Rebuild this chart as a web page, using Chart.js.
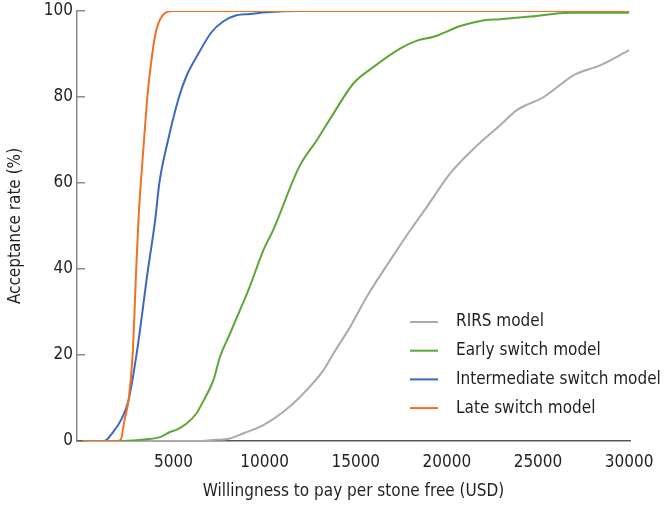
<!DOCTYPE html>
<html>
<head>
<meta charset="utf-8">
<script src="https://cdn.jsdelivr.net/npm/chart.js@4"></script>
<style>
  html, body { margin: 0; padding: 0; background: #fff; }
  #wrap { width: 668px; height: 507px; }
</style>
</head>
<body>
<div id="wrap"><canvas id="wtpChart" width="668" height="507"></canvas></div>
<script>
// willingness to pay (USD) -> acceptance rate (%)
var rirsX = [0, 6460, 7000, 8100, 8840, 9930, 11030, 11950, 13230, 13780, 14700, 15610, 17260, 17990, 18910, 20190, 21450, 22940, 23860, 25320, 26970, 28430, 30000];
var rirsY = [0, 0, 0.2, 0.6, 1.8, 3.7, 6.8, 10.3, 16.5, 20.4, 26.6, 33.6, 44.4, 49, 54.5, 62.3, 67.9, 73.5, 77, 80, 85.1, 87.4, 90.9];

var earlyX = [0, 2220, 3500, 4260, 4800, 5150, 5700, 6250, 6610, 7190, 7550, 8100, 8650, 9200, 9930, 10460, 11900, 12870, 13780, 14880, 15980, 17450, 18360, 19270, 20740, 21840, 22940, 24590, 26760, 30000];
var earlyY = [0, 0, 0.4, 0.9, 2.1, 2.6, 4, 6.4, 9.1, 14.2, 19.6, 25, 30.5, 36.1, 44.4, 49, 63.8, 70, 76.2, 83.2, 87, 91.3, 93.1, 94, 96.5, 97.7, 98.1, 98.7, 99.6, 99.6];

var interX = [0, 1200, 1650, 2120, 2530, 2980, 3600, 3980, 4220, 4700, 5300, 5720, 6350, 7070, 7700, 8450, 9200, 10100, 11900, 30000];
var interY = [0, 0, 1.9, 4.9, 9.5, 20.5, 40, 51, 60, 70, 80, 85, 90, 95, 97.5, 99, 99.3, 99.7, 100, 100];

var lateX = [0, 1900, 2100, 2310, 2530, 2760, 2950, 3080, 3220, 3380, 3560, 3830, 4050, 4400, 4950, 30000];
var lateY = [0, 0, 0.3, 4.9, 9.5, 20.5, 40, 52, 61, 70, 80, 90, 95.5, 99, 100, 100];

var xTicks = [5000, 10000, 15000, 20000, 25000, 30000];
var yTicks = [0, 20, 40, 60, 80, 100];

function pts(xs, ys) {
    return xs.map(function (x, i) { return { x: x, y: ys[i] }; });
}

var FONT = "'DejaVu Sans Condensed', 'Liberation Sans Narrow', sans-serif";
var TEXT = '#231f20';

// legend drawn inside the plot, lower right
var insideLegend = {
    id: 'insideLegend',
    afterDraw: function (chart) {
        var c = chart.ctx;
        c.save();
        c.font = '17px ' + FONT;
        c.textBaseline = 'middle';
        c.fillStyle = TEXT;
        chart.data.datasets.forEach(function (ds, i) {
            var y = 322 + i * 28.7;
            c.strokeStyle = ds.borderColor;
            c.lineWidth = 2;
            c.beginPath();
            c.moveTo(410, y);
            c.lineTo(438, y);
            c.stroke();
            c.fillText(ds.label, 456, y);
        });
        c.restore();
    }
};

var ctx = document.getElementById('wtpChart').getContext('2d');

var wtpChart = new Chart(ctx, {
    type: 'line',
    data: {
        datasets: [
            { label: 'RIRS model', data: pts(rirsX, rirsY), borderColor: '#ababab', order: 4 },
            { label: 'Early switch model', data: pts(earlyX, earlyY), borderColor: '#5ea636', order: 3 },
            { label: 'Intermediate switch model', data: pts(interX, interY), borderColor: '#3c68c0', order: 2 },
            { label: 'Late switch model', data: pts(lateX, lateY), borderColor: '#ef7223', order: 1 }
        ]
    },
    options: {
        responsive: false,
        animation: false,
        elements: {
            point: { radius: 0 },
            line: { borderWidth: 2, cubicInterpolationMode: 'monotone', fill: false }
        },
        layout: {
            padding: { top: 11, right: 38, left: 0, bottom: 0 }
        },
        plugins: {
            legend: { display: false },
            tooltip: { enabled: false }
        },
        scales: {
            x: {
                type: 'linear',
                min: -300,
                max: 30050,
                afterFit: function (s) { s.height = 66; s.paddingLeft = 0; s.paddingRight = 0; },
                afterBuildTicks: function (s) { s.ticks = xTicks.map(function (v) { return { value: v }; }); },
                grid: { display: false, drawTicks: false },
                border: { display: true, color: '#5a5657', width: 1.5 },
                ticks: {
                    padding: 11,
                    color: TEXT,
                    font: { family: FONT, size: 17 },
                    maxRotation: 0,
                    callback: function (v) { return String(v); }
                },
                title: {
                    display: true,
                    text: 'Willingness to pay per stone free (USD)',
                    color: TEXT,
                    font: { family: FONT, size: 17 },
                    padding: { top: 0, bottom: 5 }
                }
            },
            y: {
                min: 0,
                max: 100,
                afterFit: function (s) { s.width = 77; s.paddingTop = 0; s.paddingBottom = 0; },
                afterBuildTicks: function (s) { s.ticks = yTicks.map(function (v) { return { value: v }; }); },
                grid: { drawOnChartArea: false, drawTicks: true, tickLength: -8, color: '#8a8a8a', lineWidth: 1.5 },
                border: { display: true, color: '#8a8a8a', width: 1.5 },
                ticks: {
                    padding: 12,
                    color: TEXT,
                    font: { family: FONT, size: 17 },
                    callback: function (v) { return String(v); }
                },
                title: {
                    display: true,
                    text: 'Acceptance rate (%)',
                    color: TEXT,
                    font: { family: FONT, size: 17 },
                    padding: { top: 5, bottom: 0 }
                }
            }
        }
    },
    plugins: [insideLegend]
});
</script>
</body>
</html>
